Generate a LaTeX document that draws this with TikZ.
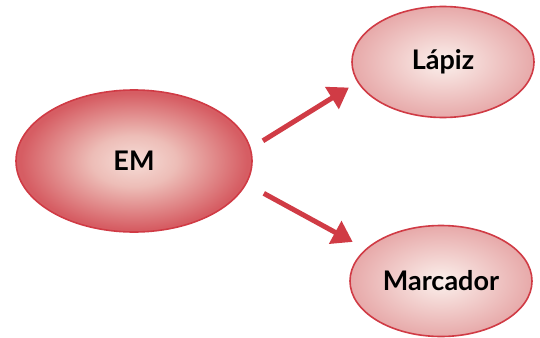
\documentclass[tikz,border=0pt]{standalone}
\usepackage{fontspec}
\setmainfont{Lato}
\usetikzlibrary{shapes.geometric,arrows.meta}
\definecolor{emout}{HTML}{D65D63}
\definecolor{emin}{HTML}{F6DDD7}
\definecolor{emmid}{HTML}{EDBDB7}
\definecolor{leafout}{HTML}{E39B9C}
\definecolor{leafin}{HTML}{FBF0EC}
\definecolor{rim}{HTML}{D03B45}
\pgfdeclareradialshading{emglow}{\pgfpoint{0bp}{0bp}}{color(0bp)=(emin); color(9bp)=(emmid); color(24bp)=(emout); color(50bp)=(emout)}
\pgfdeclareradialshading{leafglow}{\pgfpoint{0bp}{0bp}}{color(0bp)=(leafin); color(30bp)=(leafout); color(50bp)=(leafout)}

\begin{document}
\begin{tikzpicture}[x=1pt, y=-1pt,
    blob/.style={ellipse, draw=rim, line width=1.6pt, inner sep=0pt,
      font=\fontsize{27}{30}\selectfont\bfseries},
    link/.style={draw=rim, line width=5pt, -{Triangle[length=20pt,width=25pt]}}]
  \useasboundingbox (0,0) rectangle (540,337);
  \node[blob, shading=emglow, minimum width=236pt, minimum height=142pt] (em) at (134,161) {EM};
  \node[blob, shading=leafglow, minimum width=182pt, minimum height=111pt] (lapiz) at (443,62) {Lápiz};
  \node[blob, shading=leafglow, minimum width=182pt, minimum height=111pt] (marcador) at (441,281) {Marcador};
  \draw[link] ([shift={(14,-2)}]em.9) -- ([shift={(-10,3)}]lapiz.195);
  \draw[link] ([shift={(20,5)}]em.-14) -- ([shift={(-14,-6)}]marcador.156);
\end{tikzpicture}
\end{document}
